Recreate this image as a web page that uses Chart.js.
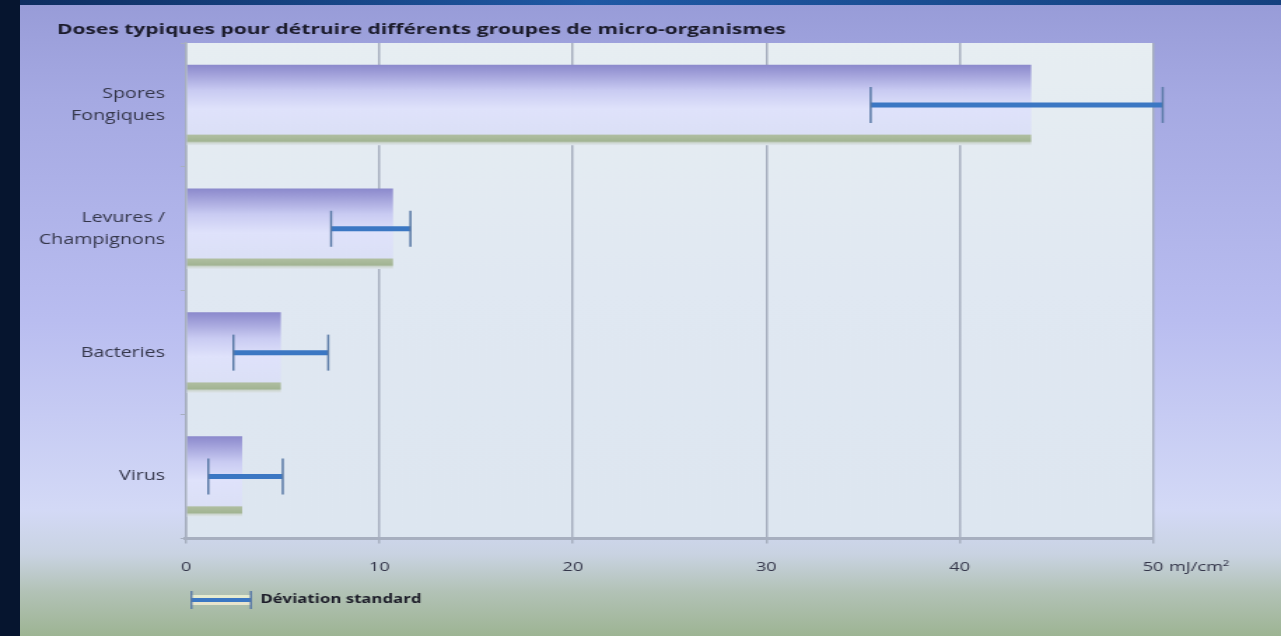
<!DOCTYPE html>
<html lang="fr">
<head>
<meta charset="utf-8">
<title>Doses typiques pour détruire différents groupes de micro-organismes</title>
<script src="https://cdn.jsdelivr.net/npm/chart.js@4.4.1/dist/chart.umd.min.js"></script>
<style>
  html, body { margin: 0; padding: 0; }
  body { width: 1281px; height: 636px; overflow: hidden; background: #06152f; position: relative; }
  #topband { position: absolute; left: 20px; top: 0; right: 0; height: 5px;
    background: linear-gradient(to right, #0e2d60, #1f58a4 45%, #15417f); }
  #panel { position: absolute; left: 20px; top: 5px; right: 0; bottom: 0;
    background: linear-gradient(to bottom, #989cd8 0%, #a5a9e2 15%, #b9bdf0 50%, #d3d9f6 80%, #c9d3e2 87%, #b2c2b6 93%, #9db493 100%); }
  #wrap { position: absolute; left: 0; top: 0; width: 915px; height: 636px;
    transform: scaleX(1.4); transform-origin: 0 0; }
</style>
</head>
<body>
<div id="topband"></div>
<div id="panel"></div>
<div id="wrap"><canvas id="chart" width="915" height="636"></canvas></div>
<script>
// Data (mJ/cm²)
const categories = ["Spores Fongiques", "Levures / Champignons", "Bacteries", "Virus"];
const categoryLines = [["Spores", "Fongiques"], ["Levures /", "Champignons"], ["Bacteries"], ["Virus"]];
const doses = [43.7, 10.7, 4.9, 2.9];
const errLow = [35.4, 7.5, 2.45, 1.15];
const errHigh = [50.5, 11.6, 7.35, 5.0];
const xTicks = [0, 10, 20, 30, 40, 50];
const unitText = "mJ/cm²";
const chartTitle = "Doses typiques pour détruire différents groupes de micro-organismes";
const legendText = "Déviation standard";

const gridColor = "#a7afbf";
const tickColor = "#34364a";
const tickFont = { family: "'Open Sans', sans-serif", size: 13 };
const BAR_PCT = 0.65;
const X_TICK_PAD = 16;
const X_TICK_LEN = 5;

// bar fill: purple top fading to pale, green rim at the bottom
function barFill(context) {
  const chart = context.chart;
  const area = chart.chartArea;
  const yScale = chart.scales.y;
  if (!area || !yScale) return "#cfd1f4";
  const band = (area.bottom - area.top) / categories.length * BAR_PCT;
  const mid = yScale.getPixelForValue(context.dataIndex);
  const g = chart.ctx.createLinearGradient(0, mid - band / 2, 0, mid + band / 2);
  g.addColorStop(0, "#8b89cc");
  g.addColorStop(0.1, "#9e9dd8");
  g.addColorStop(0.32, "#c9cbf2");
  g.addColorStop(0.55, "#dfe2fb");
  g.addColorStop(0.86, "#dbe0f6");
  g.addColorStop(0.88, "#aebd9f");
  g.addColorStop(0.95, "#a2b493");
  g.addColorStop(0.97, "#cdd6d0");
  g.addColorStop(1, "#dfe6ee");
  return g;
}

// legend symbol: error bar with caps
const sample = document.createElement("canvas");
sample.width = 44;
sample.height = 18;
(function () {
  const s = sample.getContext("2d");
  s.fillStyle = "#e6ebcf";
  s.fillRect(1, 4, 42, 3);
  s.fillStyle = "#3b77c3";
  s.fillRect(1, 7, 42, 4);
  s.fillStyle = "#e8e4cc";
  s.fillRect(1, 11, 42, 3);
  s.fillStyle = "#5a7aa6";
  s.fillRect(0, 0, 1.5, 18);
  s.fillRect(42.5, 0, 1.5, 18);
})();

// light plot background
const plotBackground = {
  id: "plotBackground",
  beforeDraw(chart) {
    const { ctx, chartArea: a } = chart;
    const g = ctx.createLinearGradient(0, a.top, 0, a.bottom);
    g.addColorStop(0, "#e7eef2");
    g.addColorStop(0.5, "#e0e8f2");
    g.addColorStop(1, "#dde6f0");
    ctx.save();
    ctx.fillStyle = g;
    ctx.fillRect(a.left, a.top, a.right - a.left, a.bottom - a.top);
    ctx.restore();
  }
};

// title at the top left, above the axis labels
const titleText = {
  id: "titleText",
  afterDraw(chart) {
    const ctx = chart.ctx;
    ctx.save();
    ctx.font = "bold 15px 'Open Sans', sans-serif";
    ctx.fillStyle = "#1b1b2b";
    ctx.textAlign = "left";
    ctx.textBaseline = "middle";
    ctx.fillText(chartTitle, 40.7, 30);
    ctx.restore();
  }
};

// unit written after the last tick label
const unitLabel = {
  id: "unitLabel",
  afterDraw(chart) {
    const xs = chart.scales.x;
    const ctx = chart.ctx;
    const last = xTicks[xTicks.length - 1];
    ctx.save();
    ctx.font = tickFont.size + "px " + tickFont.family;
    const x = xs.getPixelForValue(last) + ctx.measureText(String(last)).width / 2 + 4;
    const y = xs.top + X_TICK_LEN + X_TICK_PAD + tickFont.size * 1.2 / 2;
    ctx.fillStyle = tickColor;
    ctx.textAlign = "left";
    ctx.textBaseline = "middle";
    ctx.fillText(unitText, x, y);
    ctx.restore();
  }
};

const errorSets = categories.map((cat, i) => ({
  type: "line",
  indexAxis: "y",
  data: [{ x: errLow[i], y: cat }, { x: errHigh[i], y: cat }],
  borderColor: "#3b77c3",
  borderWidth: 5,
  pointStyle: "line",
  rotation: 90,
  pointRadius: 18,
  pointBorderColor: "#5a7aa6",
  pointBorderWidth: 1.5,
  clip: false,
  order: 0
}));

new Chart(document.getElementById("chart"), {
  type: "bar",
  data: {
    labels: categories,
    datasets: [
      {
        data: doses,
        backgroundColor: barFill,
        borderWidth: 0,
        barPercentage: BAR_PCT,
        categoryPercentage: 1,
        order: 1
      },
      ...errorSets
    ]
  },
  options: {
    indexAxis: "y",
    responsive: false,
    animation: false,
    events: [],
    layout: { padding: { left: 0, right: 91.4, top: 43, bottom: 20 } },
    scales: {
      x: {
        type: "linear",
        min: 0,
        max: 50,
        afterBuildTicks: (scale) => { scale.ticks = xTicks.map((v) => ({ value: v })); },
        ticks: { color: tickColor, font: tickFont, padding: X_TICK_PAD, maxRotation: 0 },
        grid: { color: gridColor, lineWidth: 1.5, drawTicks: true, tickLength: X_TICK_LEN },
        border: { color: gridColor, width: 3 }
      },
      y: {
        type: "category",
        afterFit: (scale) => { scale.width = 132.9; },
        ticks: {
          color: tickColor,
          font: { family: "'Open Sans', sans-serif", size: 14, lineHeight: 1.55 },
          padding: 11,
          callback: (v, i) => categoryLines[i]
        },
        grid: { drawOnChartArea: false, drawTicks: true, tickLength: 4, color: gridColor },
        border: { color: gridColor, width: 1.5 }
      }
    },
    plugins: {
      title: { display: false },
      legend: {
        display: true,
        position: "bottom",
        align: "start",
        fullSize: false,
        labels: {
          usePointStyle: true,
          pointStyleWidth: 44,
          padding: 3,
          color: "#1c1c28",
          font: { family: "'Open Sans', sans-serif", size: 12, weight: "bold" },
          generateLabels: () => [{
            text: legendText,
            pointStyle: sample,
            fontColor: "#1c1c28",
            lineWidth: 0,
            hidden: false,
            datasetIndex: 1
          }]
        }
      },
      tooltip: { enabled: false }
    }
  },
  plugins: [plotBackground, titleText, unitLabel]
});
</script>
</body>
</html>
